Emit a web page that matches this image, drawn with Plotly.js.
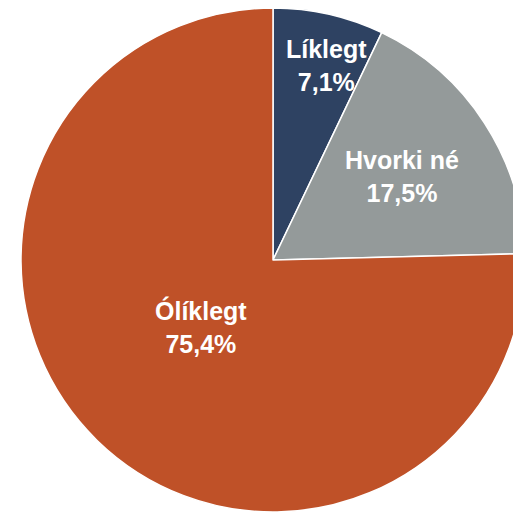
<!DOCTYPE html>
<html><head><meta charset="utf-8">
<script src="https://cdn.plot.ly/plotly-3.0.1.min.js"></script>
<style>html,body{margin:0;padding:0;overflow:hidden;background:#fff;width:513px;height:513px}</style>
</head><body><div id="chart"></div>
<script>
const labels = ["Líklegt", "Hvorki né", "Ólíklegt"];
const values = [7.1, 17.5, 75.4];
const colors = ["#2E4262", "#949A9A", "#BF5128"];

const W = 546, H = 520;
const R = 252;                           // pie radius in px
const labelRadius = [0.80, 0.61, 0.39];  // label distance as fraction of radius
const labelAngleShift = [2.5, 0, 3];     // small angular nudge in degrees

const data = [{
  type: "pie",
  labels: labels,
  values: values,
  sort: false,
  direction: "clockwise",
  rotation: 0,
  marker: {colors: colors, line: {color: "#ffffff", width: 1.5}},
  textinfo: "none",
  hoverinfo: "none",
  domain: {x: [0, 1], y: [8/H, 512/H]}
}];

const total = values.reduce((a, b) => a + b, 0);
let cum = 0;
const annotations = values.map((v, i) => {
  const mid = (cum + v / 2) / total * 2 * Math.PI + labelAngleShift[i] * Math.PI / 180;
  cum += v;
  const r = labelRadius[i] * R;
  return {
    xref: "paper", yref: "paper",
    x: 0.5 + r * Math.sin(mid) / W,
    y: 0.5 + r * Math.cos(mid) / H,
    xanchor: "center", yanchor: "middle",
    showarrow: false,
    text: labels[i] + "<br>" + v.toFixed(1).replace(".", ",") + "%",
    font: {family: "Liberation Sans, Arial, sans-serif", size: 25, color: "#ffffff", weight: "bold"}
  };
});

const layout = {
  width: W, height: H,
  margin: {l: 0, r: 0, t: 0, b: 0},
  showlegend: false,
  paper_bgcolor: "#ffffff",
  annotations: annotations
};
Plotly.newPlot("chart", data, layout, {staticPlot: true});
</script></body></html>
